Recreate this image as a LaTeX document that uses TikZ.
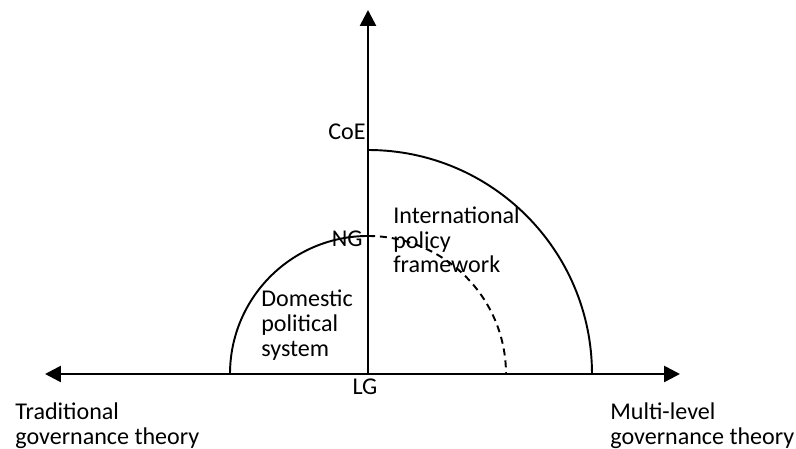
\documentclass[tikz,border=0pt]{standalone}
\usepackage{fontspec}
\setmainfont{Carlito}
\usetikzlibrary{arrows.meta}

\begin{document}
\begin{tikzpicture}[x=0.02cm,y=0.02cm,
  axis/.style={line width=1.5pt},
  tip/.style={-{Triangle[width=9pt,length=9pt]}},
  ring/.style={line width=1.1pt},
  lbl/.style={inner sep=0pt,font=\fontsize{13.7}{14.2}\selectfont,align=left}]
\useasboundingbox (0,0) rectangle (796,449);
% axes
\coordinate (o) at (368,75);
\coordinate (top) at (368,439);
\coordinate (left) at (45,75);
\coordinate (right) at (680,75);
\draw[axis,tip] (o) -- (top);
\draw[axis,{Triangle[width=9pt,length=9pt]}-{Triangle[width=9pt,length=9pt]}] (left) -- (right);
% arcs
\draw[ring] (o) ++(224,0) arc[start angle=0,end angle=90,radius=224];
\draw[ring] (o) ++(0,138) arc[start angle=90,end angle=180,radius=138];
\draw[ring,dash pattern=on 4pt off 2.8pt] (o) ++(0,138) arc[start angle=90,end angle=0,radius=138];
% labels
\node[lbl,anchor=base east] (coe) at (366,309) {CoE};
\node[lbl,anchor=base east] (ng) at (363,202) {NG};
\node[lbl,anchor=base] (lg) at (365,54) {LG};
\node[lbl,anchor=north west] (dom) at (261,159) {Domestic\\political\\system};
\node[lbl,anchor=north west] (intl) at (393,243) {International\\policy\\framework};
\node[lbl,anchor=north west] (trad) at (15,47) {Traditional\\governance theory};
\node[lbl,anchor=north west] (mlg) at (610,47) {Multi-level\\governance theory};
\end{tikzpicture}
\end{document}
